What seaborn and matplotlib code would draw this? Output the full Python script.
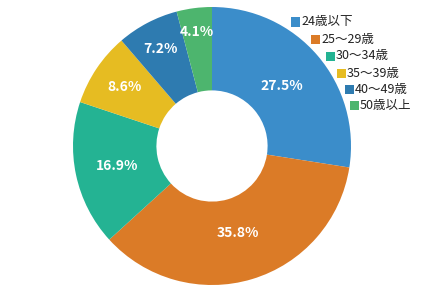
import matplotlib
matplotlib.use("Agg")
import matplotlib.pyplot as plt
import seaborn as sns
import numpy as np
from matplotlib.patches import Rectangle

categories = ["24歳以下", "25～29歳", "30～34歳", "35～39歳", "40～49歳", "50歳以上"]
values = [27.5, 35.8, 16.9, 8.6, 7.2, 4.1]
colors = ["#3B8DCA", "#DB7B27", "#24B393", "#E6BC22", "#2E7BB0", "#4DB56E"]
label_dist = [0.66, 0.65, 0.70, 0.76, 0.79, 0.83]

sns.set_theme(style="white")
plt.rcParams['font.family'] = ['Noto Sans CJK JP', 'DejaVu Sans']
palette = sns.color_palette(colors)

fig = plt.figure(figsize=(4.26, 2.93), dpi=100)
ax = fig.add_axes([73/426, 8/293, 278/426, 278/293])
wedges, texts = ax.pie(values, colors=palette, startangle=90, counterclock=False,
                       radius=1.0, wedgeprops=dict(width=0.6, edgecolor="none"),
                       labels=[f"{v:.1f}%" for v in values], labeldistance=0.68,
                       textprops=dict(color="white", fontsize=10, fontweight="bold",
                                      ha="center", va="center"))
for w, t, d in zip(wedges, texts, label_dist):
    ang = np.deg2rad((w.theta1 + w.theta2) / 2)
    t.set_position((d * np.cos(ang), d * np.sin(ang)))
ax.set_xlim(-1, 1)
ax.set_ylim(-1, 1)
ax.set_aspect("equal")
ax.axis("off")

# staggered legend
leg_x = [295, 315, 330, 341, 349, 354]
leg_y = [22, 39, 56, 73, 89, 105]
W, H = 426, 293
for lab, col, x, y in zip(categories, palette, leg_x, leg_y):
    s = 9
    fig.patches.append(Rectangle(((x - s/2) / W, (H - y - s/2) / H), s / W, s / H,
                                 transform=fig.transFigure, facecolor=col, edgecolor="none"))
    fig.text((x + 6) / W, (H - y) / H, lab, fontsize=9, color="#222222",
             ha="left", va="center")

fig.savefig("out.png", dpi=100)
